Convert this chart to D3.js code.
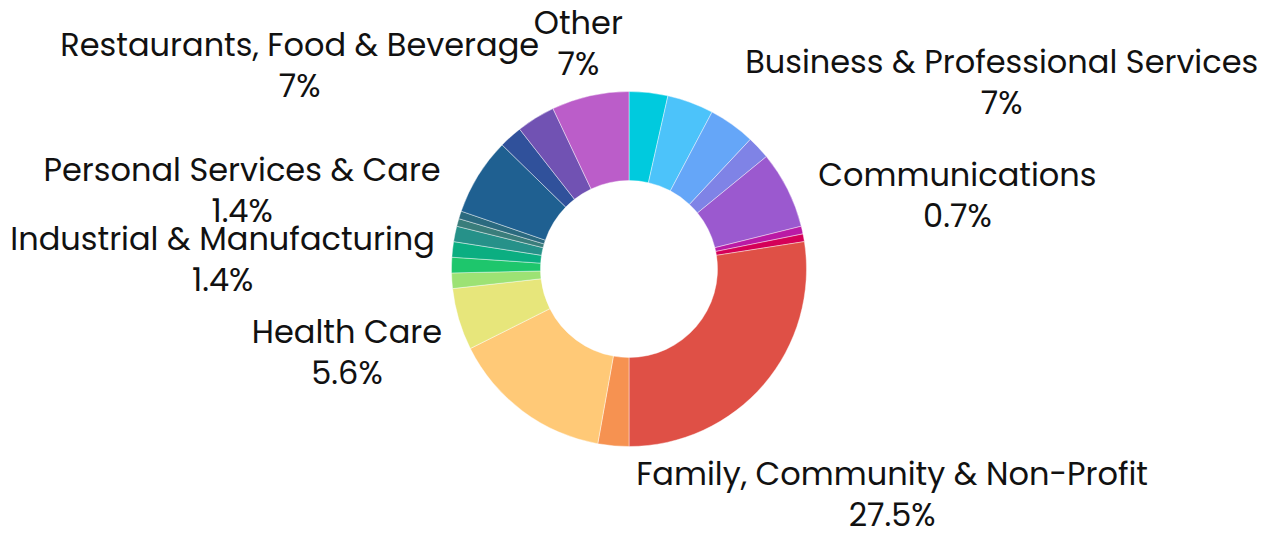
<!DOCTYPE html>
<html>
<head>
<meta charset="utf-8">
<script src="https://cdn.jsdelivr.net/npm/d3@7"></script>
<style>
  body { margin: 0; background: #fff; }
  text { font-family: Poppins, Inter, "Noto Sans", sans-serif; fill: #111; }
</style>
</head>
<body>
<div id="chart"></div>
<script>
const categories = ["", "", "", "", "Business & Professional Services", "Communications", "",
  "Family, Community & Non-Profit", "", "", "Health Care", "", "Industrial & Manufacturing", "",
  "Personal Services & Care", "", "", "Restaurants, Food & Beverage", "", "", "Other"];
const counts = [5, 6, 6, 3, 10, 1, 1, 39, 4, 21, 8, 2, 2, 2, 2, 1, 1, 10, 3, 5, 10];
const colors = ["#00cade", "#4cc3fa", "#65a6f8", "#7f83e6", "#9b59cf", "#ba1aa5", "#d50058",
  "#df5046", "#f69251", "#ffc977", "#e7e67b", "#9de274", "#1ec66c", "#0bae81",
  "#269189", "#3a7d7b", "#2b6a7f", "#1f6091", "#30519b", "#7152b3", "#bb5dc9"];

const width = 1268, height = 538;
const cx = 629, cy = 269, outerR = 177.5, innerR = 88.5;
const labelGap = 194;        // nearest edge of a label sits on this circle
const fontSize = 32, lineStep = 41, capH = fontSize * 0.68;

let svg = d3.select("#chart")
  .append("svg")
  .attr("width", width)
  .attr("height", height);

let g = svg.append("g").attr("transform", `translate(${cx},${cy})`);

let pie = d3.pie().sort(null).value(d => d);
let arcs = pie(counts);
let total = d3.sum(counts);

let arc = d3.arc().innerRadius(innerR).outerRadius(outerR);

g.selectAll("path")
  .data(arcs)
  .enter()
  .append("path")
  .attr("d", arc)
  .attr("fill", (d, i) => colors[i])
  .attr("stroke", "rgba(255,255,255,0.6)")
  .attr("stroke-width", 0.7);

let fmt = v => (+(v / total * 100).toFixed(1)) + "%";

// distance from centre to the closest point of a box
function nearest(x, y, hw, hh) {
  let dx = Math.max(Math.abs(x) - hw, 0);
  let dy = Math.max(Math.abs(y) - hh, 0);
  return Math.sqrt(dx * dx + dy * dy);
}

arcs.forEach((d, i) => {
  if (!categories[i]) return;
  let t = g.append("text").attr("text-anchor", "middle").style("font-size", fontSize + "px");
  let l1 = t.append("tspan").text(categories[i]);
  let l2 = t.append("tspan").text(fmt(d.value));
  let w = Math.max(l1.node().getComputedTextLength(), l2.node().getComputedTextLength());
  let H = capH + lineStep;
  let a = (d.startAngle + d.endAngle) / 2;
  let sx = Math.sin(a), sy = -Math.cos(a);
  let lo = 0, hi = 1000;
  for (let k = 0; k < 50; k++) {
    let mid = (lo + hi) / 2;
    if (nearest(mid * sx, mid * sy, w / 2, H / 2) < labelGap) lo = mid; else hi = mid;
  }
  let x = lo * sx, y = lo * sy;
  let base1 = y - H / 2 + capH;
  l1.attr("x", x).attr("y", base1);
  l2.attr("x", x).attr("y", base1 + lineStep);
});
</script>
</body>
</html>
